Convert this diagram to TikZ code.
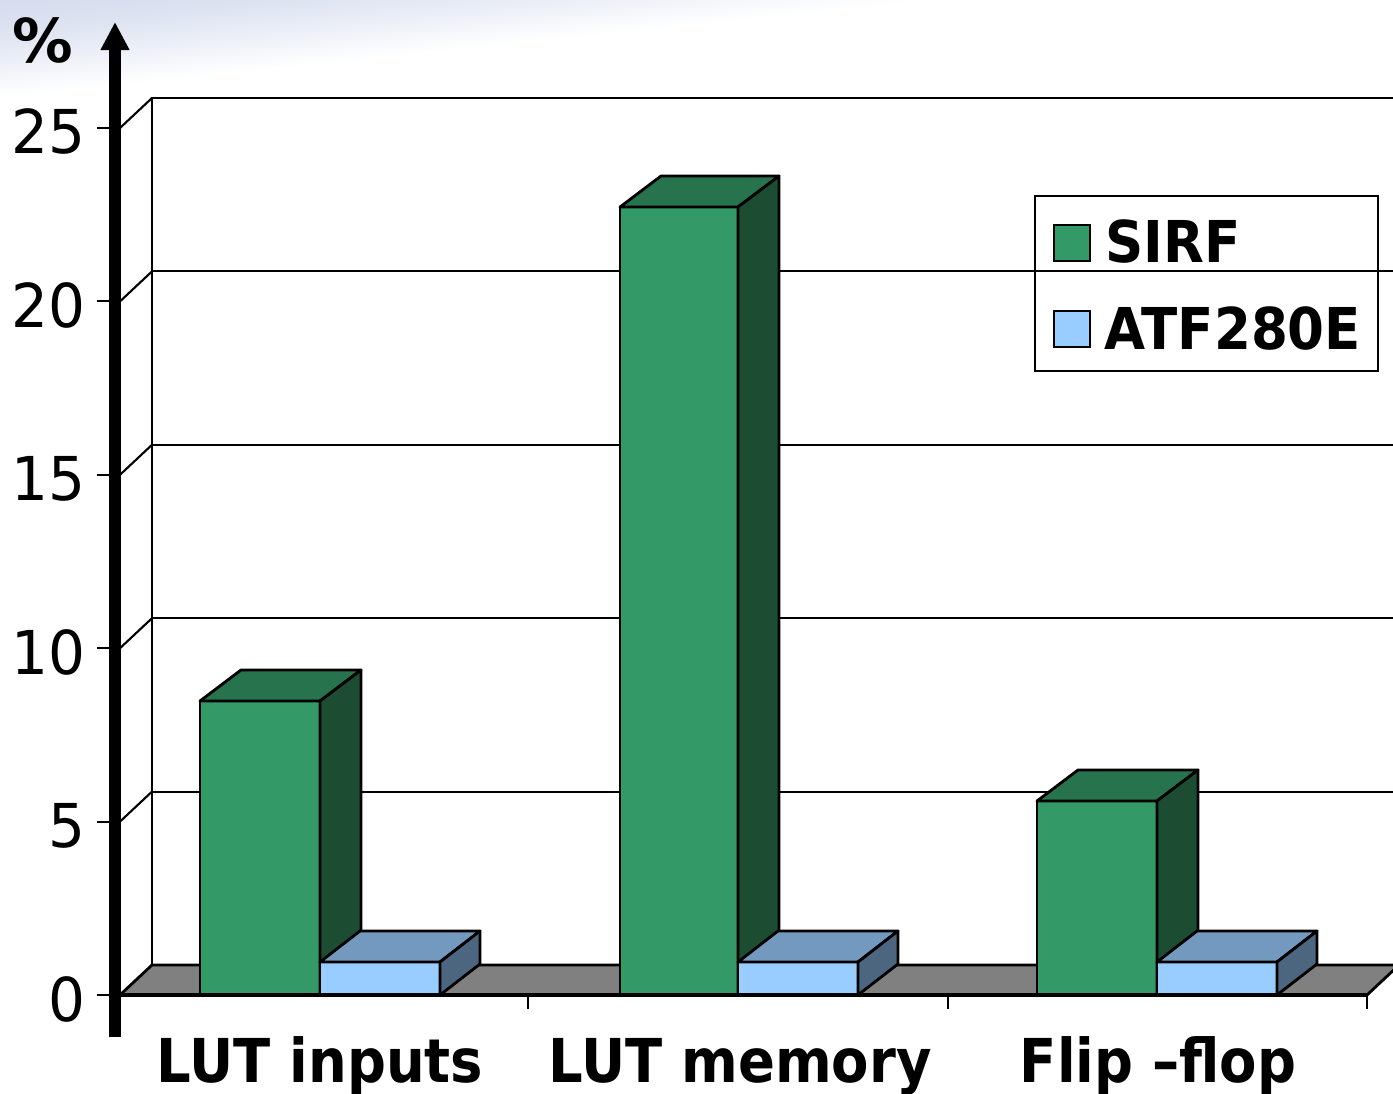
\documentclass[tikz,border=0pt]{standalone}
\usepackage{fontspec}
\setmainfont{DejaVu Sans}
\newfontfamily\labelfont{DejaVu Sans}[FakeStretch=0.9]
\newfontfamily\keyfont{DejaVu Sans}[FakeStretch=0.92]
\newfontfamily\valuefont{DejaVu Sans}[FakeStretch=0.96]
\usetikzlibrary{arrows.meta}
\definecolor{sirffront}{RGB}{51,153,102}
\definecolor{sirftop}{RGB}{38,115,77}
\definecolor{sirfside}{RGB}{28,77,51}
\definecolor{atffront}{RGB}{153,204,255}
\definecolor{atftop}{RGB}{115,153,191}
\definecolor{atfside}{RGB}{77,102,128}
\definecolor{floorgray}{RGB}{128,128,128}
\definecolor{swoosh}{RGB}{212,219,237}
\colorlet{swooshlight}{swoosh!45!white}
\colorlet{swooshmid}{swoosh!80!white}
\pgfdeclareverticalshading{swooshfade}{100bp}{color(0bp)=(white); color(62.6bp)=(white);
  color(63.7bp)=(swooshlight); color(64.7bp)=(swooshmid); color(65.8bp)=(swoosh); color(100bp)=(swoosh)}
\begin{document}
\begin{tikzpicture}[x=0.01cm,y=-0.01cm,
  every node/.style={inner sep=0pt,font=\valuefont\fontsize{17.2}{20}\selectfont},
  face/.style={draw=black,line width=0.8pt,line join=round},
  wall/.style={black,line width=0.6pt},
  catlabel/.style={anchor=base,font=\labelfont\fontsize{17.2}{20}\selectfont\bfseries},
  keylabel/.style={anchor=base west,font=\keyfont\fontsize{16.4}{20}\selectfont\bfseries}]
\useasboundingbox (0,0) rectangle (1393,1094);
% slide background
\shade[transform canvas={rotate around={6:(0,95)}},shading=swooshfade] (-300,-300) rectangle (1800,1300);
% back wall and grid
\draw[wall] (152,965) -- (152,98) -- (1400,98);
\draw[wall] (152,271.4) -- (1400,271.4); \draw[wall] (152,444.8) -- (1400,444.8);
\draw[wall] (152,618.2) -- (1400,618.2); \draw[wall] (152,791.6) -- (1400,791.6);
\draw[wall] (120,128) -- (152,98); \draw[wall] (120,301.4) -- (152,271.4);
\draw[wall] (120,474.8) -- (152,444.8); \draw[wall] (120,648.2) -- (152,618.2);
\draw[wall] (120,821.6) -- (152,791.6);
% floor
\draw[face,fill=floorgray] (120,995) -- (1367,995) -- (1399,965) -- (152,965) -- cycle;
% LUT inputs
\draw[face,fill=sirffront] (200,701) rectangle (320,995);
\draw[face,fill=sirftop] (200,701) -- (241,670) -- (361,670) -- (320,701) -- cycle;
\draw[face,fill=sirfside] (320,701) -- (361,670) -- (361,964) -- (320,995) -- cycle;
\draw[face,fill=atffront] (320,962) rectangle (440,995);
\draw[face,fill=atftop] (320,962) -- (360,931) -- (480,931) -- (440,962) -- cycle;
\draw[face,fill=atfside] (440,962) -- (480,931) -- (480,964) -- (440,995) -- cycle;
% LUT memory
\draw[face,fill=sirffront] (620,207) rectangle (738,995);
\draw[face,fill=sirftop] (620,207) -- (661,176) -- (779,176) -- (738,207) -- cycle;
\draw[face,fill=sirfside] (738,207) -- (779,176) -- (779,964) -- (738,995) -- cycle;
\draw[face,fill=atffront] (738,962) rectangle (858,995);
\draw[face,fill=atftop] (738,962) -- (778,931) -- (898,931) -- (858,962) -- cycle;
\draw[face,fill=atfside] (858,962) -- (898,931) -- (898,964) -- (858,995) -- cycle;
% Flip-flop
\draw[face,fill=sirffront] (1037,801) rectangle (1157,995);
\draw[face,fill=sirftop] (1037,801) -- (1078,770) -- (1198,770) -- (1157,801) -- cycle;
\draw[face,fill=sirfside] (1157,801) -- (1198,770) -- (1198,964) -- (1157,995) -- cycle;
\draw[face,fill=atffront] (1157,962) rectangle (1277,995);
\draw[face,fill=atftop] (1157,962) -- (1197,931) -- (1317,931) -- (1277,962) -- cycle;
\draw[face,fill=atfside] (1277,962) -- (1317,931) -- (1317,964) -- (1277,995) -- cycle;
% axes
\draw[line width=1.1pt] (120,995) -- (1367,995);
\draw[wall] (528,995) -- (528,1009); \draw[wall] (948,995) -- (948,1009); \draw[wall] (1367,995) -- (1367,1009);
\draw[wall] (97,995) -- (120,995); \draw[wall] (97,821.6) -- (120,821.6); \draw[wall] (97,648.2) -- (120,648.2);
\draw[wall] (97,474.8) -- (120,474.8); \draw[wall] (97,301.4) -- (120,301.4); \draw[wall] (97,128) -- (120,128);
\coordinate (axisfoot) at (115,1037);
\coordinate (axishead) at (115,22);
\draw[line width=0.11cm,-{Triangle[length=0.28cm,width=0.27cm]}] (axisfoot) -- (axishead);
\node[anchor=base west,font=\fontsize{17.2}{20}\selectfont\bfseries] (unit) at (12,63) {\%};
\node[anchor=base east] (val0) at (86,1021) {0};
\node[anchor=base east] (val5) at (86,847.6) {5};
\node[anchor=base east] (val10) at (86,674.2) {10};
\node[anchor=base east] (val15) at (86,500.8) {15};
\node[anchor=base east] (val20) at (86,327.4) {20};
\node[anchor=base east] (val25) at (86,154) {25};
\node[catlabel] (catinputs) at (320,1082) {LUT inputs};
\node[catlabel] (catmemory) at (740,1082) {LUT memory};
\node[catlabel] (catflip) at (1158,1082) {Flip –flop};
% legend
\node[draw,line width=0.7pt,minimum width=3.43cm,minimum height=1.75cm] (legend) at (1206.5,283.5) {};
\node[draw,line width=0.5pt,fill=sirffront,minimum size=0.36cm] (keysirf) at (1072,243) {};
\node[draw,line width=0.5pt,fill=atffront,minimum size=0.36cm] (keyatf) at (1072,329) {};
\node[keylabel] (namesirf) at (1105,263) {SIRF};
\node[keylabel] (nameatf) at (1104,350) {ATF280E};
\end{tikzpicture}
\end{document}
